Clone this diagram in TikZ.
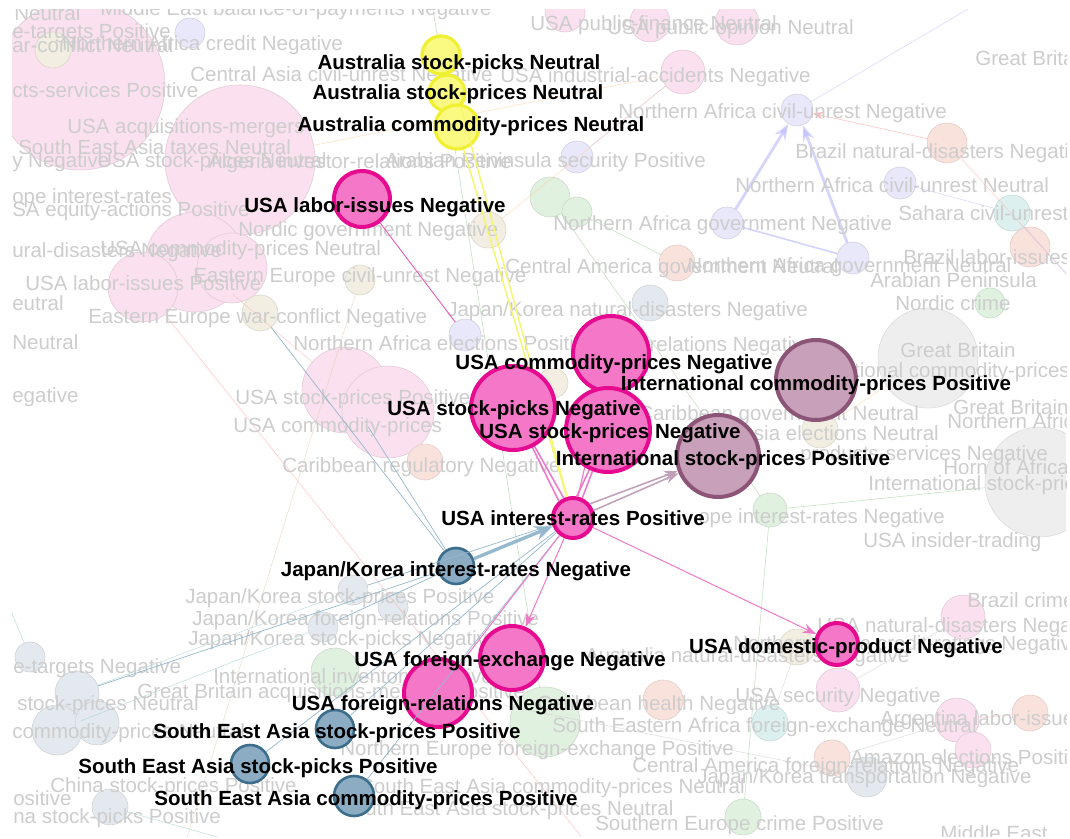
\documentclass[tikz,border=0pt]{standalone}
\usepackage{fontspec}
\setmainfont{Liberation Sans}
\usetikzlibrary{arrows.meta}
\usepackage{xcolor}

\definecolor{usaRim}{RGB}{230,10,145}
\definecolor{usaFill}{RGB}{245,120,200}
\definecolor{usaEdge}{RGB}{240,120,200}
\definecolor{intlRim}{RGB}{140,85,120}
\definecolor{intlFill}{RGB}{200,160,185}
\definecolor{intlEdge}{RGB}{195,160,185}
\definecolor{ausRim}{RGB}{240,240,50}
\definecolor{ausFill}{RGB}{250,250,130}
\definecolor{ausEdge}{RGB}{245,245,110}
\definecolor{seaRim}{RGB}{60,110,140}
\definecolor{seaFill}{RGB}{140,172,196}
\definecolor{seaEdge}{RGB}{150,185,205}
\definecolor{ghostGray}{RGB}{205,205,205}
\definecolor{bgPink}{RGB}{251,224,239}
\definecolor{bgSalmon}{RGB}{250,226,220}
\definecolor{bgLav}{RGB}{233,231,250}
\definecolor{bgGreen}{RGB}{224,241,224}
\definecolor{bgBlue}{RGB}{227,233,238}
\definecolor{bgTeal}{RGB}{220,240,240}
\definecolor{bgGray}{RGB}{238,238,238}
\definecolor{bgCream}{RGB}{242,238,225}

\tikzset{
  topic/.style={circle, inner sep=0pt, minimum size=#1*0.25mm},
  usa/.style={topic=#1, fill=usaFill, draw=usaRim, line width=1mm},
  intl/.style={topic=#1, fill=intlFill, draw=intlRim, line width=1mm},
  aus/.style={topic=#1, fill=ausFill, draw=ausRim, line width=0.8mm},
  sea/.style={topic=#1, fill=seaFill, draw=seaRim, line width=0.65mm},
  faint/.style={topic=#1, line width=0.4pt},
  lbl/.style={font=\fontsize{14.6}{17}\selectfont\bfseries, text=black, inner sep=0pt},
  ghost/.style={font=\fontsize{14.6}{17}\selectfont, text=ghostGray, inner sep=0pt, anchor=west},
  faintedge/.style={line width=0.4pt, opacity=0.6},
  pinkedge/.style={draw=usaEdge, line width=1.1pt, -{Stealth[length=3.4mm, width=2.4mm]}},
  mauveedge/.style={draw=intlEdge, line width=1.1pt, -{Stealth[length=3.4mm, width=2.4mm]}}
}

\begin{document}
\begin{tikzpicture}[x=0.25mm, y=-0.25mm]
  \useasboundingbox[fill=white] (0,0) rectangle (1070,839);
  \clip (12,10) rectangle (1066,836);

  % faded background topics
  \foreach \x/\y/\d [count=\i] in {80/85/170, 240/160/150, 195/262/100, 143/287/70,
      232/268/70, 345/390/86, 388/412/92, 650/22/40, 683/72/44, 737/23/44, 565/12/40,
      838/690/44, 957/720/44, 963/617/44, 973/750/36}
    \node[faint=\d, fill=bgPink, draw=bgPink!90!black] (pk\i) at (\x,\y) {};
  \foreach \x/\y/\d [count=\i] in {947/143/40, 425/462/36, 663/700/40, 832/758/36,
      677/263/36, 1030/713/36, 1030/247/40}
    \node[faint=\d, fill=bgSalmon, draw=bgSalmon!90!black] (sa\i) at (\x,\y) {};
  \foreach \x/\y/\d [count=\i] in {797/110/32, 577/157/32, 727/223/32, 900/183/32,
      853/258/32, 465/335/32, 190/33/30}
    \node[faint=\d, fill=bgLav, draw=bgLav!90!black] (lv\i) at (\x,\y) {};
  \foreach \x/\y/\d [count=\i] in {550/197/40, 577/212/30, 770/510/34, 743/817/36,
      545/722/70, 335/672/48, 990/303/30}
    \node[faint=\d, fill=bgGreen, draw=bgGreen!90!black] (gr\i) at (\x,\y) {};
  \foreach \x/\y/\d [count=\i] in {30/657/30, 77/693/44, 57/730/50, 97/723/44,
      110/807/36, 353/590/30, 323/627/30, 393/607/30, 650/303/36, 867/777/40}
    \node[faint=\d, fill=bgBlue, draw=bgBlue!90!black] (bl\i) at (\x,\y) {};
  \foreach \x/\y/\d [count=\i] in {1012/213/36, 770/723/36}
    \node[faint=\d, fill=bgTeal, draw=bgTeal!90!black] (tl\i) at (\x,\y) {};
  \foreach \x/\y/\d [count=\i] in {928/358/100, 1040/482/110}
    \node[faint=\d, fill=bgGray, draw=bgGray!92!black] (gy\i) at (\x,\y) {};
  \foreach \x/\y/\d [count=\i] in {260/313/36, 360/280/30, 488/230/36, 820/430/36,
      797/647/36, 53/50/36, 553/383/30}
    \node[faint=\d, fill=bgCream, draw=bgCream!90!black] (cr\i) at (\x,\y) {};

  % loose ends of faded connectors
  \coordinate (offS1) at (180,860);
  \coordinate (offS2) at (600,860);
  \coordinate (offS3) at (300,860);
  \coordinate (offN1) at (430,-10);
  \coordinate (offN2) at (1000,-10);
  \coordinate (offE1) at (1090,300);
  \coordinate (offE2) at (1090,560);
  \coordinate (offW1) at (-10,560);

  % faded connectors
  \draw[faintedge, draw=bgLav!80!blue, line width=2pt, -{Stealth[length=4mm]}] (lv5) -- (lv1);
  \draw[faintedge, draw=bgLav!80!blue, line width=2pt, -{Stealth[length=4mm]}] (lv3) -- (lv1);
  \draw[faintedge, draw=bgLav!80!blue, line width=1.2pt] (lv3) -- (lv5);
  \draw[faintedge, draw=red!40, -{Stealth[length=2.5mm]}] (sa1) -- (lv1);
  \draw[faintedge, draw=red!30] (sa1) -- (offE1);
  \draw[faintedge, draw=brown!40] (offS1) -- (cr2);
  \draw[faintedge, draw=red!35] (pk4) -- (offS2);
  \draw[faintedge, draw=red!30] (pk3) -- (pk6);
  \draw[faintedge, draw=green!50!black!40] (gr1) -- (gr3);
  \draw[faintedge, draw=green!50!black!40] (gr2) -- (sa5);
  \draw[faintedge, draw=green!50!black!40] (gr3) -- (gy2);
  \draw[faintedge, draw=green!50!black!40] (gr4) -- (gr3);
  \draw[faintedge, draw=green!50!black!40] (gr5) -- (offN1);
  \draw[faintedge, draw=blue!25] (lv1) -- (offN2);
  \draw[faintedge, draw=blue!25] (lv2) -- (pk9);
  \draw[faintedge, draw=blue!25] (lv4) -- (tl1);
  \draw[faintedge, draw=blue!25] (tl1) -- (offE1);
  \draw[faintedge, draw=orange!40] (cr4) -- (gy1);
  \draw[faintedge, draw=orange!40] (cr3) -- (pk9);
  \draw[faintedge, draw=orange!40] (pk2) -- (pk9);
  \draw[faintedge, draw=teal!40] (bl2) -- (bl6);
  \draw[faintedge, draw=teal!40] (bl3) -- (bl7);
  \draw[faintedge, draw=teal!40] (bl1) -- (offW1);
  \draw[faintedge, draw=teal!40] (bl5) -- (offS3);
  \draw[faintedge, draw=gray!40] (gr6) -- (bl10);
  \draw[faintedge, draw=gray!40] (pk12) -- (pk14);
  \draw[faintedge, draw=gray!40] (sa4) -- (pk13);
  \draw[faintedge, draw=gray!40] (cr5) -- (tl2);
  \draw[faintedge, draw=gray!40] (gy2) -- (offE2);
  \draw[faintedge, draw=red!30] (sa6) -- (pk13);

  % faded topic names
  \foreach \x/\y/\t [count=\i] in {
      14/13/{Neutral}, 100/10/{Middle East balance-of-payments Negative},
      12/33/{e-targets Positive}, 12/45/{ar-conflict Neutral},
      62/45/{Northern Africa credit Negative}, 12/90/{cts-services Positive},
      190/76/{Central Asia civil-unrest Negative}, 500/77/{USA industrial-accidents Negative},
      530/25/{USA public-finance Neutral}, 607/29/{USA public-opinion Neutral},
      975/58/{Great Britain}, 67/128/{USA acquisitions-mergers},
      18/147/{South East Asia taxes Neutral}, 12/162/{y Negative},
      97/162/{USA stock-prices Neutral}, 208/163/{Algeria investor-relations Positive},
      385/162/{Arabian Peninsula security Positive}, 618/113/{Northern Africa civil-unrest Negative},
      795/153/{Brazil natural-disasters Negative}, 735/185/{Northern Africa civil-unrest Neutral},
      898/213/{Sahara civil-unrest}, 553/225/{Northern Africa government Negative},
      12/198/{ope interest-rates}, 12/211/{SA equity-actions Positive},
      238/231/{Nordic government Negative}, 12/252/{ural-disasters Negative},
      100/250/{USA commodity-prices Neutral}, 193/277/{Eastern Europe civil-unrest Negative},
      25/283/{USA labor-issues Positive}, 12/303/{eutral}, 12/342/{Neutral},
      88/318/{Eastern Europe war-conflict Negative}, 447/311/{Japan/Korea natural-disasters Negative},
      293/343/{Northern Africa elections Positive}, 590/346/{social-relations Negative},
      12/397/{egative}, 235/399/{USA stock-prices Positive}, 233/427/{USA commodity-prices},
      282/467/{Caribbean regulatory Negative}, 505/268/{Central America government Neutral},
      687/267/{Northern Africa government Neutral}, 903/257/{Brazil labor-issues},
      870/280/{Arabian Peninsula}, 895/303/{Nordic crime}, 900/350/{Great Britain},
      790/372/{International commodity-prices Neutral}, 953/407/{Great Britain},
      947/421/{Northern Africa}, 638/415/{Caribbean government Neutral},
      740/433/{Asia elections Neutral}, 800/455/{products-services Negative},
      943/467/{Horn of Africa}, 868/485/{International stock-prices Neutral},
      698/518/{ope interest-rates Negative}, 863/542/{USA insider-trading},
      967/600/{Brazil crime}, 817/627/{USA natural-disasters Negative},
      733/645/{Northern Africa credit-ratings Negative}, 585/657/{Australia natural-disasters Negative},
      185/598/{Japan/Korea stock-prices Positive}, 192/620/{Japan/Korea foreign-relations Positive},
      188/640/{Japan/Korea stock-picks Negative}, 13/668/{e-targets Negative},
      213/678/{International inventory Positive}, 137/693/{Great Britain acquisitions-mergers Positive},
      17/705/{stock-prices Neutral}, 12/733/{commodity-prices Neutral},
      50/787/{China stock-prices Positive}, 360/788/{South East Asia commodity-prices Neutral},
      13/798/{ositive}, 13/818/{na stock-picks Positive},
      340/810/{South East Asia stock-prices Neutral}, 595/825/{Southern Europe crime Positive},
      940/833/{Middle East}, 537/705/{Caribbean health Negative},
      735/697/{USA security Negative}, 552/727/{South Eastern Africa foreign-exchange Neutral},
      880/720/{Argentina labor-issues Positive}, 340/750/{Northern Europe foreign-exchange Positive},
      850/757/{Amazon elections Positive}, 632/767/{Central America foreign-relations Negative},
      697/778/{Japan/Korea transportation Negative}}
    \node[ghost] (gh\i) at (\x,\y) {\t};

  % highlighted topics
  \node[aus=38] (ausPicks) at (441,55) {};
  \node[aus=36] (ausPrices) at (447,93) {};
  \node[aus=44] (ausComm) at (457,127) {};
  \node[usa=56] (laborNeg) at (362,199) {};
  \node[usa=40] (rateUSA) at (573,518) {};
  \node[sea=36] (rateJK) at (456,566) {};
  \node[usa=64] (fxNeg) at (512,658) {};
  \node[usa=68] (frNeg) at (438,693) {};
  \node[sea=38] (seaPrices) at (335,729) {};
  \node[sea=38] (seaPicks) at (250,764) {};
  \node[sea=40] (seaComm) at (354,796) {};
  \node[usa=42] (gdpNeg) at (837,644) {};
  \node[intl=80] (intlComm) at (816,380) {};
  \node[intl=82] (intlPrices) at (718,456) {};

  % links of the highlighted topics
  \draw[draw=ausEdge, line width=1pt] (ausComm) -- (rateUSA);
  \draw[draw=ausEdge, line width=1pt] (ausPrices.south east) -- (rateUSA);
  \draw[draw=usaRim!70, line width=0.6pt] (laborNeg) -- (lv6);
  \draw[draw=seaEdge, line width=0.5pt] (rateUSA) -- (seaPrices);
  \draw[draw=seaEdge, line width=0.5pt] (rateUSA) -- (seaPicks);
  \draw[draw=seaEdge, line width=0.5pt] (rateUSA) -- (seaComm);
  \draw[draw=seaEdge, line width=0.5pt] (rateUSA) -- (bl6);
  \draw[draw=seaEdge, line width=0.5pt] (rateJK) -- (cr1);
  \draw[draw=seaEdge, line width=0.5pt] (rateJK) -- (pk6);
  \draw[draw=seaEdge, line width=0.5pt] (rateJK) -- (bl7);
  \draw[draw=seaEdge, line width=0.5pt] (rateJK) -- (bl2);
  \draw[draw=seaEdge, line width=2.4pt, -{Stealth[length=4.5mm, width=3.6mm]}] (rateJK) -- (rateUSA);
  \draw[pinkedge, line width=0.7pt] (rateUSA) -- (gdpNeg);
  \draw[pinkedge, line width=0.7pt] (rateUSA) -- (fxNeg);
  \draw[draw=usaEdge, line width=0.7pt] (rateUSA) -- (frNeg);
  \draw[mauveedge] (rateUSA.40) -- (intlPrices);
  \draw[mauveedge] (rateUSA.20) -- (intlPrices);
  \draw[draw=usaEdge, line width=0.8pt] (rateUSA) -- (611,354);
  \node[usa=76] (commNeg) at (611,354) {};
  \draw[pinkedge] (rateUSA.115) -- (513,408);
  \draw[pinkedge] (rateUSA.130) -- (513,408);
  \node[usa=84] (picksNeg) at (513,408) {};
  \draw[pinkedge] (rateUSA.80) -- (608,430);
  \draw[pinkedge] (rateUSA.65) -- (608,430);
  \node[usa=84] (pricesNeg) at (608,430) {};

  % names of the highlighted topics
  \node[lbl] (lAusPicks) at (459,64) {Australia stock-picks Neutral};
  \node[lbl] (lAusPrices) at (458,94) {Australia stock-prices Neutral};
  \node[lbl] (lAusComm) at (471,126) {Australia commodity-prices Neutral};
  \node[lbl] (lLaborNeg) at (375,207) {USA labor-issues Negative};
  \node[lbl] (lCommNeg) at (614,364) {USA commodity-prices Negative};
  \node[lbl] (lIntlComm) at (816,385) {International commodity-prices Positive};
  \node[lbl] (lPicksNeg) at (514,410) {USA stock-picks Negative};
  \node[lbl] (lPricesNeg) at (610,433) {USA stock-prices Negative};
  \node[lbl] (lIntlPrices) at (723,460) {International stock-prices Positive};
  \node[lbl] (lRateUSA) at (573,518) {USA interest-rates Positive};
  \node[lbl] (lRateJK) at (456,571) {Japan/Korea interest-rates Negative};
  \node[lbl] (lGdpNeg) at (846,648) {USA domestic-product Negative};
  \node[lbl] (lFxNeg) at (510,661) {USA foreign-exchange Negative};
  \node[lbl] (lFrNeg) at (443,705) {USA foreign-relations Negative};
  \node[lbl] (lSeaPrices) at (337,733) {South East Asia stock-prices Positive};
  \node[lbl] (lSeaPicks) at (258,768) {South East Asia stock-picks Positive};
  \node[lbl] (lSeaComm) at (366,800) {South East Asia commodity-prices Positive};
\end{tikzpicture}
\end{document}
